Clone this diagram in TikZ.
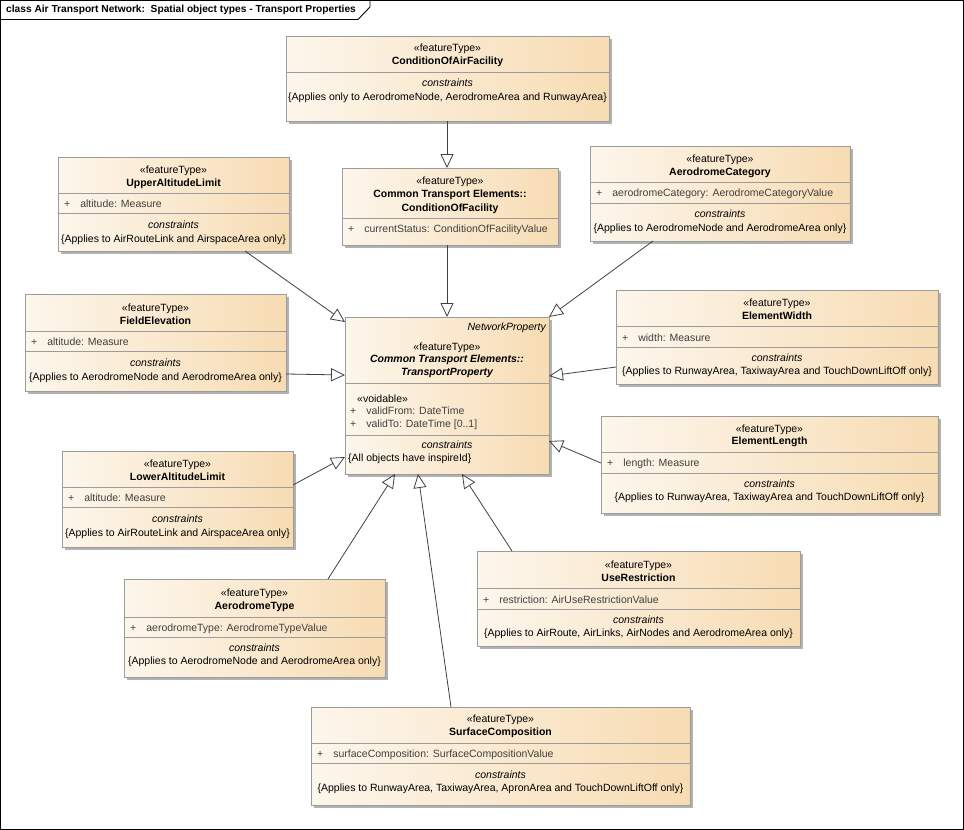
\documentclass[tikz,border=0pt]{standalone}
\usepackage{fontspec}
\setmainfont{Liberation Sans}
\usetikzlibrary{arrows.meta,shadows}
\definecolor{cL}{HTML}{FDF6EC}
\definecolor{cR}{HTML}{F7DCB3}
\definecolor{bd}{HTML}{9C9C9C}
\definecolor{attrc}{HTML}{404040}
\newcommand\umlbox[5]{\node[box, minimum width=#4pt, minimum height=#5pt] (#1) at (#2,#3) {};}
\begin{document}
\begin{tikzpicture}[x=1pt,y=-1pt,
  box/.style={draw=bd, line width=0.9pt, left color=cL, right color=cR, anchor=north west, inner sep=0pt, outer sep=0pt,
    drop shadow={shadow xshift=3pt, shadow yshift=-3pt, fill=black!30, opacity=1}},
  t/.style={font=\fontsize{10.5}{13}\selectfont, inner sep=0pt, anchor=mid, yshift=-1.5pt},
  tb/.style={t, font=\fontsize{10.5}{13}\selectfont\bfseries},
  ti/.style={t, font=\fontsize{10.5}{13}\selectfont\itshape},
  tbi/.style={t, font=\fontsize{10.5}{13}\selectfont\bfseries\itshape},
  ta/.style={t, anchor=mid west, text=attrc},
  tl/.style={t, anchor=mid west},
  div/.style={draw=bd, line width=0.8pt},
  gen/.style={draw=black!75, line width=0.8pt, -{Triangle[open, length=14pt, width=13pt, line width=0.8pt]}}
]
\useasboundingbox (0,0) rectangle (964,830);
\draw[line width=0.9pt] (0.5,0.5) rectangle (963.5,829.5);
\draw[line width=0.9pt] (0.5,19.5) -- (358,19.5) -- (370,7) -- (370,0.5);
\node[inner sep=0pt, anchor=mid west, font=\fontsize{10.2}{12}\selectfont\bfseries] (title) at (6,10) {class Air Transport Network:\ \ Spatial object types - Transport Properties};

% ConditionOfAirFacility
\umlbox{caf}{286}{36}{323}{85}
\draw[div] (286,72) -- (609,72);
\node[t] (caf1) at (447.5,47) {«featureType»};
\node[tb] (caf2) at (447.5,60) {ConditionOfAirFacility};
\node[ti] (caf3) at (447.5,82) {constraints};
\node[t] (caf4) at (447.5,96) {\{Applies only to AerodromeNode, AerodromeArea and RunwayArea\}};

% UpperAltitudeLimit
\umlbox{ual}{58}{157}{231}{94}
\draw[div] (58,193) -- (289,193);
\draw[div] (58,213) -- (289,213);
\node[t] (ual1) at (173.5,169) {«featureType»};
\node[tb] (ual2) at (173.5,182) {UpperAltitudeLimit};
\node[ta] (ual3) at (64,203) {+\hspace{10pt}altitude: Measure};
\node[ti] (ual4) at (173.5,224) {constraints};
\node[t] (ual5) at (173.5,238) {\{Applies to AirRouteLink and AirspaceArea only\}};

% ConditionOfFacility
\umlbox{cof}{342}{168}{216}{77}
\draw[div] (342,218) -- (558,218);
\node[t] (cof1) at (450,180) {«featureType»};
\node[tb] (cof2) at (450,193) {Common Transport Elements::};
\node[tb] (cof3) at (450,207) {ConditionOfFacility};
\node[ta] (cof4) at (348,228) {+\hspace{10pt}currentStatus: ConditionOfFacilityValue};

% AerodromeCategory
\umlbox{ac}{590}{146}{260}{95}
\draw[div] (590,182) -- (850,182);
\draw[div] (590,203) -- (850,203);
\node[t] (ac1) at (720,158) {«featureType»};
\node[tb] (ac2) at (720,171) {AerodromeCategory};
\node[ta] (ac3) at (596,192) {+\hspace{10pt}aerodromeCategory: AerodromeCategoryValue};
\node[ti] (ac4) at (720,213) {constraints};
\node[t] (ac5) at (720,227) {\{Applies to AerodromeNode and AerodromeArea only\}};

% FieldElevation
\umlbox{fe}{25}{294}{261}{97}
\draw[div] (25,331) -- (286,331);
\draw[div] (25,351) -- (286,351);
\node[t] (fe1) at (155.5,307) {«featureType»};
\node[tb] (fe2) at (155.5,320) {FieldElevation};
\node[ta] (fe3) at (31,341) {+\hspace{10pt}altitude: Measure};
\node[ti] (fe4) at (155.5,362) {constraints};
\node[t] (fe5) at (155.5,376) {\{Applies to AerodromeNode and AerodromeArea only\}};

% TransportProperty
\umlbox{tp}{345}{317}{204}{157}
\draw[div] (345,383) -- (549,383);
\draw[div] (345,435) -- (549,435);
\node[ti, anchor=mid east] (tp0) at (546,326) {NetworkProperty};
\node[t] (tp1) at (447,346) {«featureType»};
\node[tbi] (tp2) at (447,358) {Common Transport Elements::};
\node[tbi] (tp3) at (447,371) {TransportProperty};
\node[tl] (tp4) at (357,398) {«voidable»};
\node[ta] (tp5) at (350,410) {+\hspace{10pt}validFrom: DateTime};
\node[ta] (tp6) at (350,423) {+\hspace{10pt}validTo: DateTime [0..1]};
\node[ti] (tp7) at (447,444) {constraints};
\node[tl] (tp8) at (348,457) {\{All objects have inspireId\}};

% ElementWidth
\umlbox{ew}{616}{290}{322}{94}
\draw[div] (616,326) -- (938,326);
\draw[div] (616,347) -- (938,347);
\node[t] (ew1) at (777,302) {«featureType»};
\node[tb] (ew2) at (777,315) {ElementWidth};
\node[ta] (ew3) at (622,337) {+\hspace{10pt}width: Measure};
\node[ti] (ew4) at (777,357) {constraints};
\node[t] (ew5) at (777,370) {\{Applies to RunwayArea, TaxiwayArea and TouchDownLiftOff only\}};

% LowerAltitudeLimit
\umlbox{lal}{62}{451}{231}{96}
\draw[div] (62,487) -- (293,487);
\draw[div] (62,507) -- (293,507);
\node[t] (lal1) at (177.5,463) {«featureType»};
\node[tb] (lal2) at (177.5,476) {LowerAltitudeLimit};
\node[ta] (lal3) at (68,497) {+\hspace{10pt}altitude: Measure};
\node[ti] (lal4) at (177.5,518) {constraints};
\node[t] (lal5) at (177.5,532) {\{Applies to AirRouteLink and AirspaceArea only\}};

% ElementLength
\umlbox{el}{601}{416}{337}{97}
\draw[div] (601,452) -- (938,452);
\draw[div] (601,473) -- (938,473);
\node[t] (el1) at (769.5,428) {«featureType»};
\node[tb] (el2) at (769.5,440) {ElementLength};
\node[ta] (el3) at (607,462) {+\hspace{10pt}length: Measure};
\node[ti] (el4) at (769.5,483) {constraints};
\node[t] (el5) at (769.5,496) {\{Applies to RunwayArea, TaxiwayArea and TouchDownLiftOff only\}};

% AerodromeType
\umlbox{at}{124}{579}{261}{98}
\draw[div] (124,617) -- (385,617);
\draw[div] (124,637) -- (385,637);
\node[t] (at1) at (254.5,592) {«featureType»};
\node[tb] (at2) at (254.5,605) {AerodromeType};
\node[ta] (at3) at (130,627) {+\hspace{10pt}aerodromeType: AerodromeTypeValue};
\node[ti] (at4) at (254.5,647) {constraints};
\node[t] (at5) at (254.5,660) {\{Applies to AerodromeNode and AerodromeArea only\}};

% UseRestriction
\umlbox{ur}{477}{551}{323}{95}
\draw[div] (477,588) -- (800,588);
\draw[div] (477,609) -- (800,609);
\node[t] (ur1) at (638.5,564) {«featureType»};
\node[tb] (ur2) at (638.5,577) {UseRestriction};
\node[ta] (ur3) at (483,599) {+\hspace{10pt}restriction: AirUseRestrictionValue};
\node[ti] (ur4) at (638.5,619) {constraints};
\node[t] (ur5) at (638.5,632) {\{Applies to AirRoute, AirLinks, AirNodes and AerodromeArea only\}};

% SurfaceComposition
\umlbox{sc}{311}{707}{379}{98}
\draw[div] (311,743) -- (690,743);
\draw[div] (311,763) -- (690,763);
\node[t] (sc1) at (500.5,718) {«featureType»};
\node[tb] (sc2) at (500.5,731) {SurfaceComposition};
\node[ta] (sc3) at (317,753) {+\hspace{10pt}surfaceComposition: SurfaceCompositionValue};
\node[ti] (sc4) at (500.5,774) {constraints};
\node[t] (sc5) at (500.5,787) {\{Applies to RunwayArea, TaxiwayArea, ApronArea and TouchDownLiftOff only\}};

% generalizations
\draw[gen] ([xshift=161pt]caf.south west) -- ([xshift=105pt]cof.north west);
\draw[gen] ([xshift=105pt]cof.south west) -- ([xshift=102pt]tp.north west);
\draw[gen] ([xshift=187pt]ual.south west) -- ([yshift=-5pt]tp.north west);
\draw[gen] ([xshift=63pt]ac.south west) -- (tp.north east);
\draw[gen] ([yshift=17pt]fe.south east) -- ([yshift=-58pt]tp.north west);
\draw[gen] ([yshift=17pt]ew.south west) -- ([yshift=-59pt]tp.north east);
\draw[gen] ([yshift=-34pt]lal.north east) -- ([yshift=17pt]tp.south west);
\draw[gen] ([yshift=-47pt]el.north west) -- ([yshift=33pt]tp.south east);
\draw[gen] ([xshift=204pt]at.north west) -- ([xshift=50pt]tp.south west);
\draw[gen] ([xshift=140pt]sc.north west) -- ([xshift=73pt]tp.south west);
\draw[gen] ([xshift=35pt]ur.north west) -- ([xshift=117pt]tp.south west);
\end{tikzpicture}
\end{document}
